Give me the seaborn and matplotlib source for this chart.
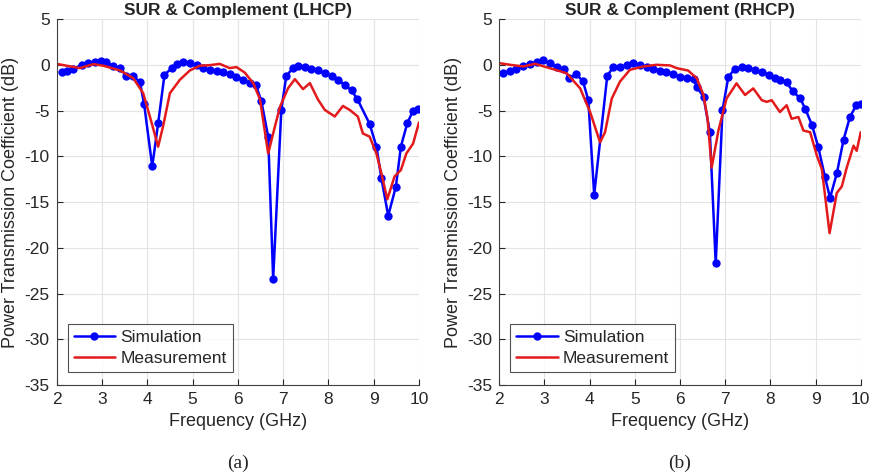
import matplotlib
matplotlib.use("Agg")
import matplotlib.pyplot as plt
import seaborn as sns
import pandas as pd

# ---- data ----
sim_l_f = [2.11, 2.22, 2.37, 2.55, 2.70, 2.85, 2.98, 3.10, 3.25, 3.40, 3.53, 3.69, 3.84, 3.93, 4.11, 4.24,
           4.38, 4.54, 4.65, 4.79, 4.94, 5.09, 5.24, 5.38, 5.53, 5.68, 5.82, 5.97, 6.12, 6.26, 6.40, 6.52,
           6.67, 6.78, 6.96, 7.07, 7.22, 7.33, 7.48, 7.62, 7.77, 7.92, 8.07, 8.21, 8.36, 8.51, 8.64, 8.91,
           9.06, 9.17, 9.32, 9.49, 9.60, 9.74, 9.87, 9.98]
sim_l_v = [-0.84, -0.66, -0.47, 0.0, 0.18, 0.33, 0.44, 0.26, -0.18, -0.36, -1.2, -1.2, -1.93, -4.27, -11.1, -6.4,
           -1.1, -0.36, 0.1, 0.33, 0.18, 0.0, -0.36, -0.62, -0.73, -0.84, -1.0, -1.28, -1.64, -2.0, -2.2, -4.0,
           -7.85, -23.4, -4.93, -1.2, -0.36, -0.18, -0.29, -0.44, -0.62, -0.91, -1.2, -1.64, -2.2, -2.8, -3.76, -6.46,
           -8.94, -12.4, -16.5, -13.3, -8.94, -6.4, -5.0, -4.85]

meas_l_f = [2.0, 2.22, 2.51, 2.81, 3.03, 3.40, 3.69, 3.91, 4.10, 4.24, 4.35, 4.50, 4.72, 4.94, 5.16, 5.38,
            5.60, 5.82, 5.97, 6.15, 6.34, 6.49, 6.67, 6.78, 6.93, 7.11, 7.26, 7.44, 7.59, 7.77, 7.92, 8.14,
            8.32, 8.47, 8.65, 8.76, 8.91, 9.06, 9.17, 9.30, 9.46, 9.60, 9.72, 9.87, 10.0]
meas_l_v = [0.1, -0.1, -0.36, 0.07, -0.1, -0.62, -1.46, -3.1, -6.4, -8.94, -6.7, -3.1, -1.64, -0.62, -0.1, -0.04,
            0.1, -0.36, -0.25, -0.84, -2.0, -3.8, -9.7, -7.5, -4.6, -2.55, -1.57, -2.66, -2.0, -3.8, -4.93, -5.65,
            -4.5, -4.93, -5.65, -7.5, -7.85, -9.7, -11.86, -14.7, -12.2, -11.5, -9.7, -8.6, -6.3]

sim_r_f = [2.09, 2.24, 2.38, 2.53, 2.68, 2.83, 2.97, 3.12, 3.28, 3.43, 3.55, 3.70, 3.85, 3.97, 4.10, 4.39,
           4.52, 4.67, 4.82, 4.97, 5.11, 5.26, 5.41, 5.56, 5.70, 5.85, 6.00, 6.15, 6.30, 6.37, 6.52, 6.66,
           6.79, 6.94, 7.07, 7.22, 7.37, 7.51, 7.66, 7.81, 7.96, 8.10, 8.21, 8.36, 8.49, 8.66, 8.77, 8.92,
           9.06, 9.21, 9.32, 9.47, 9.62, 9.76, 9.90, 10.0]
sim_r_v = [-0.92, -0.66, -0.44, -0.18, 0.11, 0.29, 0.48, 0.18, -0.29, -0.44, -1.47, -1.03, -1.77, -3.87, -14.2, -1.18,
           -0.29, -0.29, 0.0, 0.15, 0.0, -0.29, -0.44, -0.66, -0.81, -1.03, -1.29, -1.4, -1.55, -2.4, -3.5, -7.37,
           -21.7, -4.97, -1.29, -0.44, -0.29, -0.37, -0.55, -0.81, -1.1, -1.4, -1.66, -1.92, -2.87, -3.68, -4.79, -6.56,
           -9.0, -12.3, -14.55, -11.86, -8.18, -5.71, -4.42, -4.24]

meas_r_f = [2.0, 2.24, 2.53, 2.79, 3.12, 3.49, 3.79, 4.01, 4.23, 4.34, 4.49, 4.67, 4.89, 5.19, 5.48, 5.78,
            5.93, 6.18, 6.37, 6.52, 6.61, 6.70, 6.85, 7.03, 7.25, 7.44, 7.62, 7.81, 7.92, 8.03, 8.21, 8.36,
            8.47, 8.62, 8.73, 8.88, 9.03, 9.14, 9.31, 9.47, 9.58, 9.69, 9.84, 9.91, 10.0]
meas_r_v = [0.18, 0.0, -0.18, 0.11, -0.37, -0.92, -2.58, -5.16, -8.47, -7.37, -3.68, -1.84, -0.55, -0.18, 0.0, -0.07,
            -0.37, -0.63, -1.47, -3.3, -5.9, -11.24, -7.18, -3.68, -2.03, -3.3, -2.58, -3.87, -4.05, -3.87, -5.16, -4.42,
            -5.9, -5.71, -7.18, -7.37, -9.95, -11.42, -18.4, -14.0, -13.3, -11.24, -8.84, -9.4, -7.37]

titles = ["SUR & Complement (LHCP)", "SUR & Complement (RHCP)"]
captions = ["(a)", "(b)"]
x_ticks = [2, 3, 4, 5, 6, 7, 8, 9, 10]
y_ticks = [-35, -30, -25, -20, -15, -10, -5, 0, 5]

# ---- plotting ----
sns.set_style("white")
plt.rcParams['font.family'] = ['Liberation Sans', 'DejaVu Sans']
plt.rcParams['axes.unicode_minus'] = False

fig = plt.figure(figsize=(8.72, 4.76), dpi=100)
positions = [[0.065, 0.191, 0.4155, 0.769], [0.5726, 0.191, 0.4145, 0.769]]
datasets = [(sim_l_f, sim_l_v, meas_l_f, meas_l_v), (sim_r_f, sim_r_v, meas_r_f, meas_r_v)]

for pos, (sf, sv, mf, mv), title, cap in zip(positions, datasets, titles, captions):
    ax = fig.add_axes(pos)
    sim = pd.DataFrame({"f": sf, "v": sv})
    meas = pd.DataFrame({"f": mf, "v": mv})
    sns.lineplot(data=sim, x="f", y="v", ax=ax, color="#0000ff", linewidth=1.8,
                 marker="o", markersize=6, markeredgewidth=0, label="Simulation")
    sns.lineplot(data=meas, x="f", y="v", ax=ax, color="#e31a1c", linewidth=1.8,
                 label="Measurement")
    ax.set_xlim(2, 10)
    ax.set_ylim(-35, 5)
    ax.set_xticks(x_ticks)
    ax.set_yticks(y_ticks)
    ax.grid(True, color="#e3e3e3", linewidth=0.8)
    ax.set_axisbelow(True)
    for s in ["top", "right"]:
        ax.spines[s].set_visible(False)
    for s in ["left", "bottom"]:
        ax.spines[s].set_color("#404040")
        ax.spines[s].set_linewidth(0.8)
    ax.tick_params(direction="in", length=4, width=0.8, labelsize=12.5, colors="#262626",
                   left=True, bottom=True, pad=5)
    ax.set_xlabel("Frequency (GHz)", fontsize=13, color="#262626", labelpad=4)
    ax.set_ylabel("Power Transmission Coefficient (dB)", fontsize=13, color="#262626", labelpad=4)
    ax.set_title(title, fontsize=12.5, fontweight="bold", pad=3)
    leg = ax.legend(loc="lower left", bbox_to_anchor=(0.03, 0.035), fontsize=12.5,
                    frameon=True, fancybox=False, edgecolor="#262626", borderpad=0.35,
                    handlelength=2.4, handletextpad=0.3, labelspacing=0.35, borderaxespad=0)
    leg.get_frame().set_linewidth(0.8)
    ax.text(0.5, -0.19, cap, transform=ax.transAxes, ha="center", va="top",
            fontsize=14, family=["Liberation Serif", "DejaVu Serif"])

fig.savefig("out.png", dpi=100)
